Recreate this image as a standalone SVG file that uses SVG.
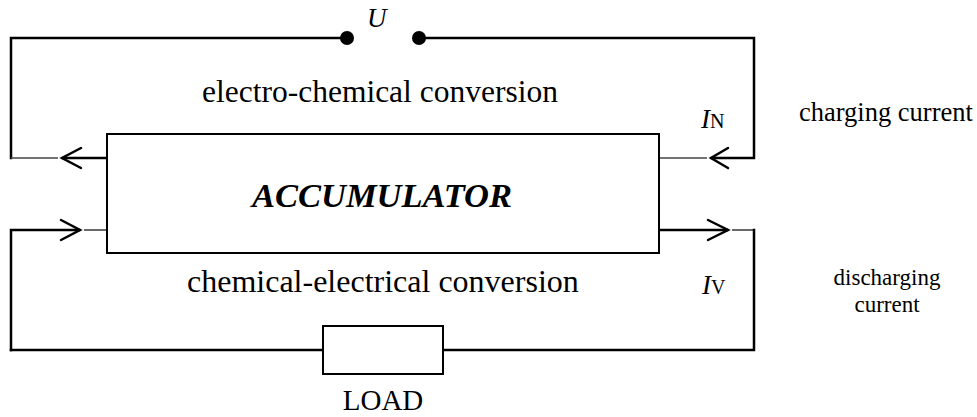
<svg xmlns="http://www.w3.org/2000/svg" width="977" height="417" viewBox="0 0 977 417">
<style>
.w{stroke:#000;stroke-width:2.5;fill:none;stroke-linecap:square}
.t{stroke:#444;stroke-width:1.6;fill:none}
.h{stroke:#000;stroke-width:2.5;fill:none;stroke-linecap:round;stroke-linejoin:miter}
.tx{font-family:"Liberation Serif","Times New Roman",serif;fill:#000}
</style>
<rect width="977" height="417" fill="#fff"/>
<g id="connectors">
  <path class="w" d="M347,38 H11 V158"/>
  <path class="t" d="M11,158 H58"/>
  <path class="w" d="M107,158 H63"/>
  <path class="h" d="M81,148 L62,158 L81,168"/>
  <path class="w" d="M419,38 H754 V158 H712"/>
  <path class="h" d="M728,148 L711,158 L728,168"/>
  <path class="t" d="M659,158 H707"/>
  <path class="w" d="M11,350 V230 H79"/>
  <path class="h" d="M61,220 L80,230 L61,240"/>
  <path class="t" d="M84,230 H107"/>
  <path class="w" d="M659,230 H727"/>
  <path class="h" d="M708,220 L728,230 L708,240"/>
  <path class="t" d="M732,230 H754"/>
  <path class="w" d="M754,230 V350 H11"/>
  <circle cx="347" cy="38" r="7" fill="#000"/>
  <circle cx="419" cy="38" r="7" fill="#000"/>
</g>
<g id="accumulator">
  <rect x="107" y="134" width="552" height="119" fill="#fff" stroke="#000" stroke-width="2"/>
  <text class="tx" x="382" y="207" font-size="34.5" font-weight="bold" font-style="italic" text-anchor="middle">ACCUMULATOR</text>
</g>
<g id="load">
  <rect x="323" y="326" width="120" height="48" fill="#fff" stroke="#000" stroke-width="2"/>
  <text class="tx" x="383" y="410" font-size="29" text-anchor="middle">LOAD</text>
</g>
<g id="labels">
  <text class="tx" x="367" y="27" font-size="27" font-style="italic">U</text>
  <text class="tx" x="202" y="102" font-size="31.5">electro-chemical conversion</text>
  <text class="tx" x="187" y="292" font-size="32">chemical-electrical conversion</text>
  <text class="tx" x="701" y="128" font-size="27"><tspan font-style="italic">I</tspan><tspan font-size="20">N</tspan></text>
  <text class="tx" x="702" y="294" font-size="27"><tspan font-style="italic">I</tspan><tspan font-size="20">V</tspan></text>
  <text class="tx" x="799" y="121" font-size="26.5">charging current</text>
  <text class="tx" x="887" y="285" font-size="23" text-anchor="middle">discharging</text>
  <text class="tx" x="887" y="312" font-size="23" text-anchor="middle">current</text>
</g>
</svg>
